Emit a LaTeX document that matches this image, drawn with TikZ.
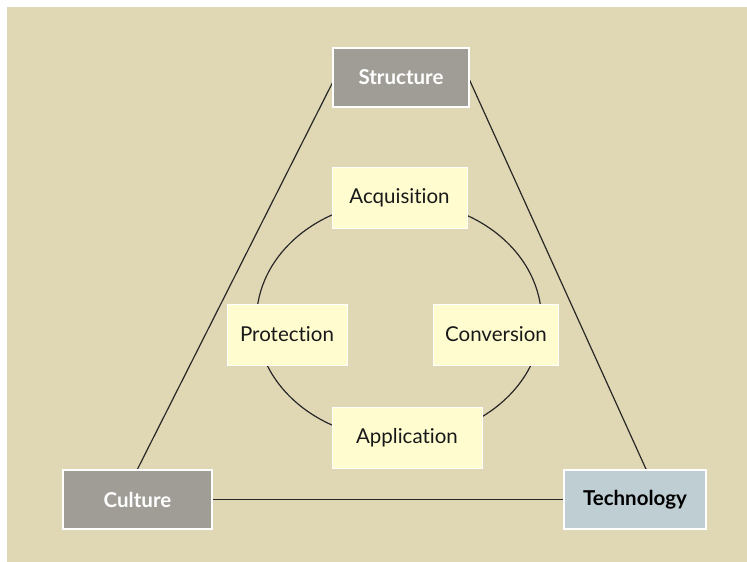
\documentclass[tikz,border=0pt]{standalone}
\usepackage{fontspec}
\setmainfont{Lato}[Ligatures={NoCommon,NoRequired,NoContextual}]
\usetikzlibrary{backgrounds,calc}
\definecolor{paper}{RGB}{224,215,180}
\definecolor{slate}{RGB}{160,157,150}
\definecolor{steel}{RGB}{190,206,211}
\definecolor{paleyellow}{RGB}{255,253,208}
\definecolor{linkgray}{RGB}{40,40,40}
\begin{document}
\begin{tikzpicture}[x=1pt,y=-1pt,
  pillar/.style={draw=white, line width=1.8pt, inner sep=0pt, minimum height=59pt,
    font=\fontsize{20.5}{22}\selectfont\bfseries},
  stage/.style={draw=white, line width=1pt, fill=paleyellow, inner sep=0pt,
    minimum height=61pt, text=black!90, font=\fontsize{20.5}{23}\selectfont},
  link/.style={draw=linkgray, line width=1.2pt}]
  \useasboundingbox (0,0) rectangle (747,562);

  % the three pillars
  \node[pillar, fill=slate, text=white, minimum width=136pt] (s) at (401,77.5) {Structure};
  \node[pillar, fill=slate, text=white, minimum width=149pt] (c) at (137.5,499.5) {Culture};
  \node[pillar, fill=steel, text=black, minimum width=142pt] (t) at (635,499.5) {Technology};

  % the knowledge cycle
  \coordinate (hub) at (399,320);
  \node[stage, minimum width=135pt] (acq) at (399.5,197.5) {Acquisition};
  \node[stage, minimum width=120pt] (pro) at (287,334.5) {Protection};
  \node[stage, minimum width=125pt] (con) at (496,334.5) {Conversion};
  \node[stage, minimum width=150pt] (app) at (407,438) {Application};

  \begin{scope}[on background layer]
    \fill[white] (0,0) rectangle (747,562);
    \fill[paper] (7,7) rectangle (747,562);
    \draw[link] ($(s.west)+(3,0)$) -- (c.north);
    \draw[link] ($(s.east)+(-1.5,0)$) -- ($(t.north)+(11,0)$);
    \draw[link] (c.east) -- (t.west);
    \draw[link] (hub) ellipse [x radius=142.5, y radius=119];
  \end{scope}
\end{tikzpicture}
\end{document}
